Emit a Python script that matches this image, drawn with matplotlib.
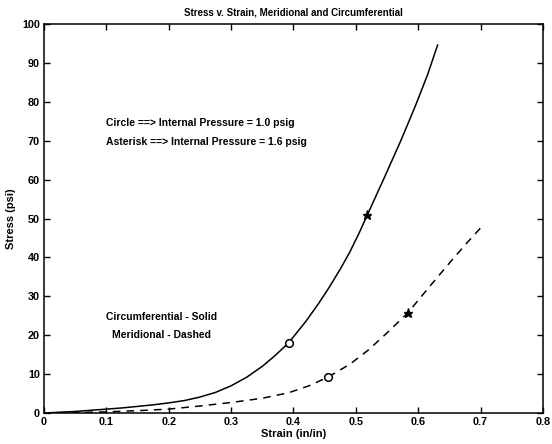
import matplotlib
matplotlib.use("Agg")
import matplotlib.pyplot as plt

# solid curve (circumferential)
circ_strain = [0.0, 0.025, 0.05, 0.075, 0.1, 0.125, 0.15, 0.175, 0.2, 0.225, 0.25,
               0.275, 0.3, 0.325, 0.35, 0.37, 0.392, 0.42, 0.44, 0.456, 0.475,
               0.49, 0.505, 0.518, 0.545, 0.572, 0.595, 0.615, 0.631]
circ_stress = [0.0, 0.2, 0.4, 0.7, 1.0, 1.3, 1.7, 2.1, 2.6, 3.2, 4.1,
               5.3, 7.0, 9.2, 12.0, 14.7, 18.0, 23.6, 28.1, 32.0, 37.0,
               41.3, 46.2, 50.8, 60.3, 70.0, 78.8, 87.0, 94.6]

# dashed curve (meridional)
mer_strain = [0.0, 0.05, 0.1, 0.15, 0.2, 0.25, 0.3, 0.35, 0.392, 0.425, 0.456,
              0.49, 0.52, 0.55, 0.583, 0.615, 0.647, 0.675, 0.7]
mer_stress = [0.0, 0.1, 0.3, 0.6, 1.0, 1.8, 2.7, 3.8, 5.2, 7.0, 9.3,
              12.5, 16.2, 20.6, 25.7, 31.9, 38.0, 43.2, 47.6]

# marker points
circle_strain = [0.392, 0.456]
circle_stress = [18.0, 9.3]
asterisk_strain = [0.518, 0.583]
asterisk_stress = [50.8, 25.7]

plt.rcParams["font.family"] = ["Liberation Sans", "DejaVu Sans"]
plt.rcParams["font.size"] = 7.5
plt.rcParams["font.weight"] = "bold"

fig = plt.figure(figsize=(5.52, 4.44), dpi=100)
ax = fig.add_axes([0.0797, 0.0698, 0.9040, 0.876])

ax.plot(circ_strain, circ_stress, color="black", linewidth=1.1)
ax.plot(mer_strain, mer_stress, color="black", linewidth=1.1, linestyle=(0, (5, 4)))
ax.plot(circle_strain, circle_stress, linestyle="none", marker="o", markersize=5.5,
        markerfacecolor="white", markeredgecolor="black", markeredgewidth=1.1)
ax.plot(asterisk_strain, asterisk_stress, linestyle="none", marker="*", markersize=6.5,
        color="black")

ax.set_xlim(0, 0.8)
ax.set_ylim(0, 100)
ax.set_xticks([0, 0.1, 0.2, 0.3, 0.4, 0.5, 0.6, 0.7, 0.8])
ax.set_xticklabels(["0", "0.1", "0.2", "0.3", "0.4", "0.5", "0.6", "0.7", "0.8"])
ax.set_yticks(range(0, 101, 10))
ax.tick_params(direction="in", length=4, width=1, top=True, right=True, pad=3,
               labelsize=7.8)
for s in ax.spines.values():
    s.set_linewidth(1.1)

ax.set_title("Stress v. Strain, Meridional and Circumferential", fontsize=7,
             fontweight="bold", pad=6)
ax.set_xlabel("Strain (in/in)", fontsize=8, fontweight="bold", labelpad=1)
ax.set_ylabel("Stress (psi)", fontsize=8, fontweight="bold", labelpad=4)

ax.text(0.1, 74.5, "Circle ==> Internal Pressure = 1.0 psig", va="center", ha="left")
ax.text(0.1, 69.6, "Asterisk ==> Internal Pressure = 1.6 psig", va="center", ha="left")
ax.text(0.1, 24.6, "Circumferential - Solid", va="center", ha="left")
ax.text(0.109, 20.0, "Meridional - Dashed", va="center", ha="left")

fig.savefig("out.png", dpi=100)
